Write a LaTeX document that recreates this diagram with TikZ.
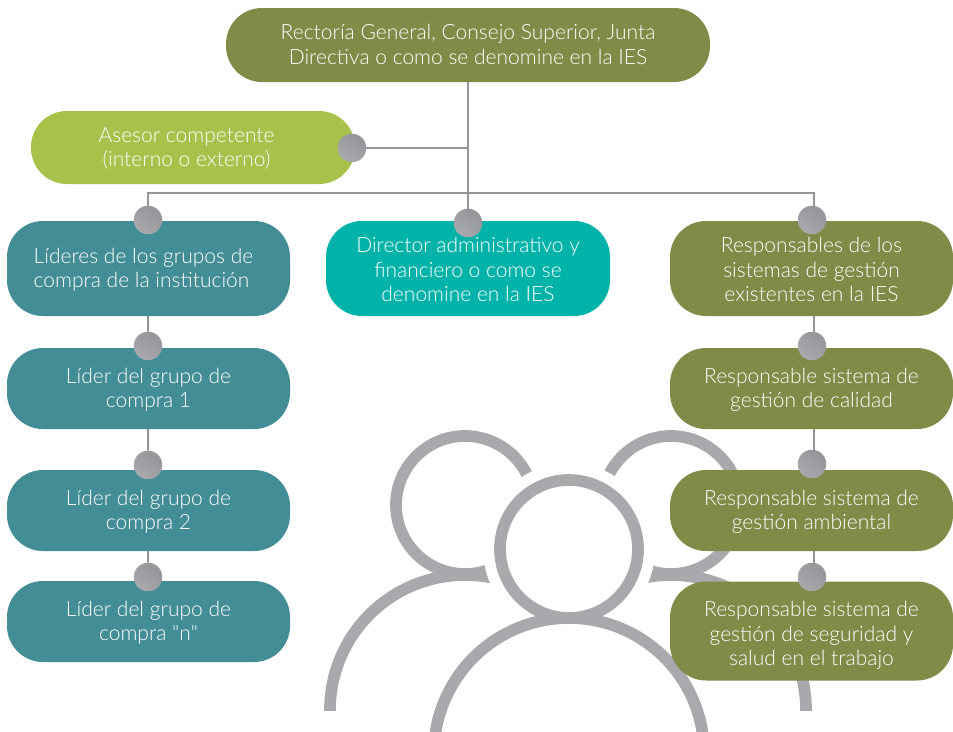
\documentclass[tikz,border=0pt]{standalone}
\usepackage{fontspec}
\newfontfamily\boxfont{Lato Light}
\usetikzlibrary{backgrounds}
\definecolor{cOlive}{HTML}{7F8C48}
\definecolor{cLime}{HTML}{A8C14B}
\definecolor{cTeal}{HTML}{438D96}
\definecolor{cAqua}{HTML}{00B3A9}
\definecolor{cIcon}{HTML}{A7A9AC}
\definecolor{cLine}{HTML}{939598}
\newcommand{\fstl}{\rule{0pt}{18pt}}
\newcommand{\fstlb}{\rule{0pt}{21pt}}
\newcommand{\fstlc}{\rule{0pt}{24pt}}
\newcommand{\lstl}{\rule[-4pt]{0pt}{4pt}}
\tikzset{
  x=1pt,y=-1pt,
  box/.style={draw=none,text=white,align=center,inner sep=0pt,font=\boxfont\fontsize{21}{24.6}\selectfont},
  olive/.style={box,fill=cOlive},
  lime/.style={box,fill=cLime},
  teal box/.style={box,fill=cTeal},
  aqua/.style={box,fill=cAqua},
  dot/.style={circle,minimum size=28.5pt,inner sep=0pt,draw=none,top color=cLine,bottom color=cIcon,shading angle=-35},
  link/.style={draw=cLine,line width=2pt},
  icon/.style={draw=cIcon,line width=11.7pt},
}
\begin{document}
\begin{tikzpicture}
\useasboundingbox (0,0) rectangle (953,731);
% boxes
\node[olive,minimum width=484pt,minimum height=74pt,rounded corners=36pt] (top) at (468,45) {\fstl Rectoría General, Consejo Superior, Junta\\Directiva o como se denomine en la IES\lstl};
\node[lime,minimum width=324pt,minimum height=73pt,rounded corners=36pt] (ases) at (193,147.5) {\fstl Asesor competente\hspace*{13pt}\\(interno o externo)\hspace*{13pt}\lstl};
\node[teal box,align=left,minimum width=283pt,minimum height=95pt,rounded corners=36pt] (lid) at (148.5,268.5) {\fstl Líderes de los grupos de\hspace*{10pt}\\compra de la institución\lstl};
\node[aqua,minimum width=284pt,minimum height=95pt,rounded corners=36pt] (dir) at (468,268.5) {\fstlb Director administrativo y\\financiero o como se\\denomine en la IES\lstl};
\node[olive,minimum width=283pt,minimum height=95pt,rounded corners=36pt] (res) at (811.5,268.5) {\fstlb Responsables de los\\sistemas de gestión\\existentes en la IES\lstl};
\node[teal box,minimum width=283pt,minimum height=81pt,rounded corners=36pt] (l1) at (148.5,388.5) {\fstl Líder del grupo de\\compra 1\lstl};
\node[teal box,minimum width=283pt,minimum height=81pt,rounded corners=36pt] (l2) at (148.5,510.5) {\fstl Líder del grupo de\\compra 2\lstl};
\node[teal box,minimum width=283pt,minimum height=81pt,rounded corners=36pt] (l3) at (148.5,621.5) {\fstl Líder del grupo de\\compra "n"\lstl};
\node[olive,minimum width=283pt,minimum height=81pt,rounded corners=36pt] (r1) at (811.5,388.5) {\fstl Responsable sistema de\\gestión de calidad\lstl};
\node[olive,minimum width=283pt,minimum height=81pt,rounded corners=36pt] (r2) at (811.5,510.5) {\fstl Responsable sistema de\\gestión ambiental\lstl};
\node[olive,minimum width=283pt,minimum height=99pt,rounded corners=36pt] (r3) at (811.5,631) {\fstlc Responsable sistema de\\gestión de seguridad y\\salud en el trabajo\lstl};
% dots
\node[dot] (dA) at (352,148) {};
\node[dot] (dL) at (148,220) {};
\node[dot] (dD) at (468,223) {};
\node[dot] (dR) at (812,220) {};
\node[dot] (dL1) at (148,346) {};
\node[dot] (dL2) at (148,465) {};
\node[dot] (dL3) at (148,577) {};
\node[dot] (dR1) at (812,346) {};
\node[dot] (dR2) at (812,464) {};
\node[dot] (dR3) at (812,577) {};
\coordinate (busL) at (148,193);
\coordinate (busR) at (813.5,193);
\begin{scope}[on background layer]
  \fill[white] (0,0) rectangle (953,731);
  \begin{scope}
    \clip (0,0) rectangle (953,710);
    \draw[icon] (465,710) circle[radius=135];
    \draw[icon] (671,710) circle[radius=135];
  \end{scope}
  \draw[icon] (465,505) circle[radius=69];
  \draw[icon] (671,505) circle[radius=69];
  \fill[white] (569,549) circle[radius=86];
  \begin{scope}
    \clip (0,0) rectangle (953,731);
    \draw[icon,fill=white] (569,753) circle[radius=135];
    \draw[icon,fill=white] (569,549) circle[radius=69];
  \end{scope}
  % connectors
  \draw[link] (top) -- (dD);
  \draw[link] (dA) -- (dA -| top);
  \draw[link] (dL) -- (busL) -- (busR) -- (res.north -| busR);
  \draw[link] (lid) -- (dL1);
  \draw[link] (l1) -- (dL2);
  \draw[link] (l2) -- (dL3);
  \draw[link] (res.south -| busR) -- (r1.north -| busR);
  \draw[link] (r1.south -| busR) -- (r2.north -| busR);
  \draw[link] (r2.south -| busR) -- (r3.north -| busR);
\end{scope}
\end{tikzpicture}
\end{document}
